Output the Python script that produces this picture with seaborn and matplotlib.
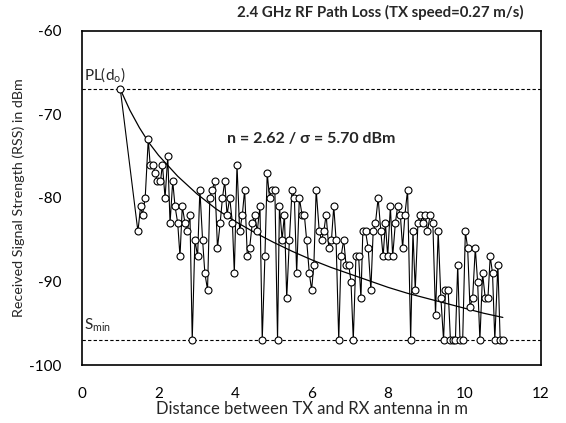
import matplotlib
matplotlib.use('Agg')
import matplotlib.pyplot as plt
import seaborn as sns

distance_m = [
    1.00, 1.46, 1.53, 1.58, 1.65, 1.73, 1.78, 1.85, 1.91, 1.97,
    2.05, 2.10, 2.17, 2.24, 2.30, 2.37, 2.43, 2.50, 2.56, 2.62,
    2.69, 2.75, 2.82, 2.88, 2.95, 3.02, 3.08, 3.15, 3.21, 3.28,
    3.34, 3.40, 3.47, 3.54, 3.61, 3.67, 3.73, 3.79, 3.86, 3.93,
    3.98, 4.05, 4.12, 4.19, 4.25, 4.32, 4.38, 4.45, 4.51, 4.58,
    4.65, 4.71, 4.78, 4.84, 4.90, 4.96, 5.04, 5.11, 5.16, 5.23,
    5.29, 5.35, 5.42, 5.49, 5.55, 5.61, 5.68, 5.75, 5.81, 5.87,
    5.94, 6.00, 6.06, 6.12, 6.20, 6.26, 6.32, 6.38, 6.45, 6.52,
    6.58, 6.64, 6.71, 6.77, 6.84, 6.90, 6.97, 7.03, 7.09, 7.16,
    7.23, 7.29, 7.34, 7.41, 7.48, 7.55, 7.61, 7.67, 7.74, 7.81,
    7.87, 7.93, 7.99, 8.06, 8.12, 8.19, 8.25, 8.32, 8.38, 8.44,
    8.51, 8.59, 8.65, 8.71, 8.78, 8.84, 8.90, 8.97, 9.03, 9.10,
    9.17, 9.24, 9.31, 9.38, 9.45, 9.50, 9.57, 9.63, 9.69, 9.76,
    9.82, 9.88, 9.95, 10.02, 10.08, 10.14, 10.21, 10.28, 10.34, 10.40,
    10.47, 10.54, 10.61, 10.67, 10.73, 10.79, 10.87, 10.93, 11.00,
]
rss_dbm = [
    -67, -84, -81, -82, -80, -73, -76, -76, -77, -78,
    -78, -76, -80, -75, -83, -78, -81, -83, -87, -81,
    -83, -84, -82, -97, -85, -87, -79, -85, -89, -91,
    -80, -79, -78, -86, -83, -80, -78, -82, -80, -83,
    -89, -76, -84, -82, -79, -87, -86, -83, -82, -84,
    -81, -97, -87, -77, -80, -79, -79, -97, -81, -85,
    -82, -92, -85, -79, -80, -89, -80, -82, -82, -85,
    -89, -91, -88, -79, -84, -85, -84, -82, -86, -85,
    -81, -85, -97, -87, -85, -88, -88, -90, -97, -87,
    -87, -92, -84, -84, -86, -91, -84, -83, -80, -84,
    -87, -83, -87, -81, -87, -83, -81, -82, -86, -82,
    -79, -97, -84, -91, -83, -82, -83, -82, -84, -82,
    -83, -94, -84, -92, -97, -91, -91, -97, -97, -97,
    -88, -97, -97, -84, -86, -93, -92, -86, -90, -97,
    -89, -92, -92, -87, -89, -97, -88, -97, -97,
]

# fitted log-distance path loss curve
fit_distance = [1.0, 1.25, 1.5, 1.75, 2.0, 2.5, 3.0, 3.5, 4.0, 4.5, 5.0,
                5.5, 6.0, 6.5, 7.0, 7.5, 8.0, 8.5, 9.0, 9.5, 10.0, 10.5, 11.0]
fit_rss = [-67.0, -69.5, -71.6, -73.4, -74.9, -77.4, -79.5, -81.3, -82.8, -84.1, -85.3,
           -86.4, -87.4, -88.3, -89.1, -89.9, -90.7, -91.4, -92.0, -92.6, -93.2, -93.8, -94.3]

PL_D0 = -67
S_MIN = -97
x_ticks = [0, 2, 4, 6, 8, 10, 12]
y_ticks = [-100, -90, -80, -70, -60]

sns.set_style('white')
plt.rcParams['font.family'] = ['Lato', 'DejaVu Sans']
plt.rcParams['mathtext.default'] = 'regular'
plt.rcParams['axes.unicode_minus'] = False

fig = plt.figure(figsize=(5.66, 4.23), dpi=100)
ax = fig.add_axes([0.145, 0.137, 0.811, 0.790])

# reference levels
ax.axhline(PL_D0, color='black', lw=0.8, ls=(0, (3, 2)), zorder=1)
ax.axhline(S_MIN, color='black', lw=0.8, ls=(0, (3, 2)), zorder=1)

sns.lineplot(x=fit_distance, y=fit_rss, color='black', lw=0.9, ax=ax, zorder=2)
sns.lineplot(x=distance_m, y=rss_dbm, sort=False, color='black', lw=0.8,
             marker='o', markersize=5, markerfacecolor='white',
             markeredgecolor='black', markeredgewidth=0.8, ax=ax, zorder=3)

ax.set_xlim(0, 12)
ax.set_ylim(-100, -60)
ax.set_xticks(x_ticks)
ax.set_yticks(y_ticks)
ax.tick_params(axis='both', direction='in', length=4, width=0.8, labelsize=11,
               colors='black')
ax.tick_params(axis='x', pad=16)
ax.tick_params(axis='y', pad=15)
for s in ax.spines.values():
    s.set_color('black')
    s.set_linewidth(1.2)

ax.set_xlabel('Distance between TX and RX antenna in m', fontsize=12, labelpad=0)
ax.set_ylabel('Received Signal Strength (RSS) in dBm', fontsize=10.3, labelpad=3)

ax.text(0.05, -66.3, 'PL(d$_o$)', fontsize=11, ha='left', va='bottom')
ax.text(0.05, -96.3, 'S$_{min}$', fontsize=11, ha='left', va='bottom')
ax.text(6.0, -72.9, 'n = 2.62 / σ = 5.70 dBm', fontsize=11.5, fontweight='bold',
        ha='center', va='center')

fig.text(0.672, 0.970, '2.4 GHz RF Path Loss (TX speed=0.27 m/s)', fontsize=10.8,
         fontweight='bold', ha='center', va='center')

fig.savefig('out.png', dpi=100, facecolor='white')
